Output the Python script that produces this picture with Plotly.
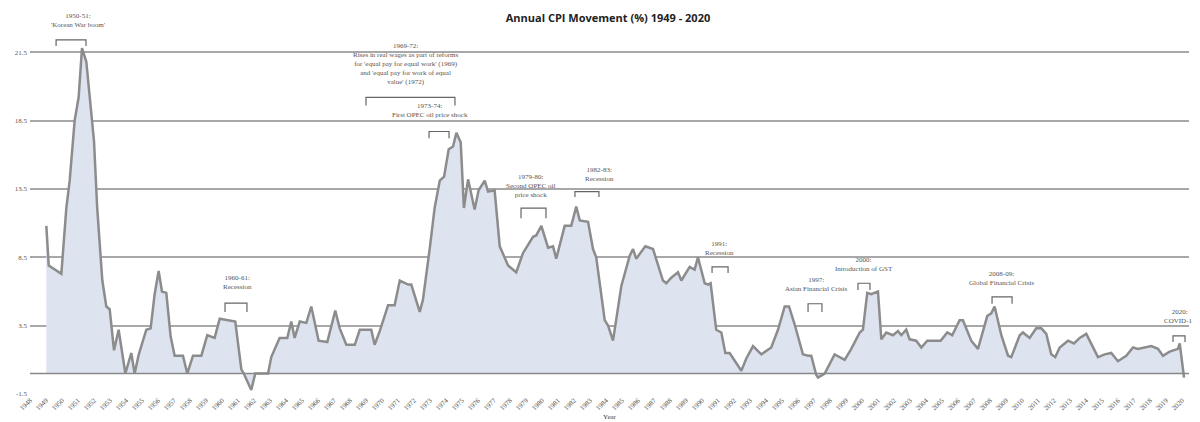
import plotly.graph_objects as go

years = [1949.02,1949.17,1949.96,1950.27,1950.48,1950.79,1951.04,1951.25,1951.52,1952.0,1952.2,1952.52,1952.77,1952.98,1953.25,1953.54,1953.96,1954.33,1954.54,1954.8,1955.27,1955.54,1955.79,1956.04,1956.25,1956.52,1956.79,1957.04,1957.56,1957.83,1958.19,1958.71,1959.08,1959.54,1959.86,1960.38,1960.83,1961.21,1961.36,1961.83,1962.08,1962.88,1963.08,1963.6,1964.08,1964.33,1964.54,1964.86,1965.27,1965.58,1966.04,1966.58,1967.08,1967.36,1967.77,1968.3,1968.61,1969.33,1969.54,1969.86,1970.38,1970.79,1971.11,1971.63,1971.83,1972.36,1972.56,1972.98,1973.29,1973.61,1973.88,1974.17,1974.44,1974.65,1974.92,1975.12,1975.38,1975.79,1976.04,1976.42,1976.63,1977.04,1977.36,1977.88,1978.39,1978.81,1979.44,1979.64,1979.96,1980.38,1980.69,1980.89,1981.42,1981.83,1982.14,1982.36,1982.88,1983.19,1983.39,1983.92,1984.13,1984.44,1984.96,1985.48,1985.69,1985.89,1986.46,1986.94,1987.56,1987.77,1988.08,1988.5,1988.71,1989.23,1989.54,1989.75,1990.17,1990.38,1990.54,1990.89,1991.21,1991.46,1991.73,1992.46,1992.77,1993.19,1993.71,1994.33,1994.75,1995.17,1995.44,1995.79,1996.31,1996.63,1996.83,1997.14,1997.25,1997.67,1998.29,1998.92,1999.33,1999.86,2000.06,2000.33,2000.58,2001.0,2001.21,2001.52,2001.94,2002.25,2002.46,2002.77,2002.98,2003.39,2003.71,2004.08,2004.54,2004.92,2005.33,2005.64,2006.1,2006.31,2006.83,2007.25,2007.83,2008.08,2008.29,2008.71,2009.13,2009.33,2009.86,2010.06,2010.48,2010.89,2011.21,2011.52,2011.83,2012.08,2012.36,2012.88,2013.25,2013.61,2014.02,2014.75,2015.17,2015.58,2016.0,2016.52,2016.94,2017.25,2018.08,2018.5,2018.81,2019.23,2019.75,2019.86,2020.13]
cpi = [10.8,7.9,7.3,12.1,14.1,18.5,20.2,23.8,22.8,17.0,12.1,6.8,4.9,4.7,1.7,3.2,0.0,1.5,0.0,1.4,3.2,3.3,5.8,7.5,6.0,5.9,2.7,1.3,1.3,0.0,1.3,1.3,2.8,2.6,4.0,3.9,3.8,0.3,0.0,-1.2,0.0,0.0,1.2,2.6,2.6,3.8,2.6,3.8,3.7,4.9,2.4,2.3,4.6,3.3,2.1,2.1,3.2,3.2,2.1,3.1,5.0,5.0,6.8,6.5,6.5,4.5,5.4,9.1,12.1,14.1,14.4,16.4,16.6,17.6,16.9,12.1,14.2,12.0,13.4,14.1,13.3,13.4,9.3,7.9,7.4,8.8,10.0,10.1,10.8,9.2,9.3,8.4,10.8,10.8,12.2,11.2,11.1,9.1,8.5,3.9,3.5,2.4,6.4,8.6,9.1,8.4,9.3,9.1,6.8,6.6,7.0,7.4,6.8,7.8,7.6,8.5,6.6,6.5,6.6,3.2,3.0,1.5,1.5,0.2,1.1,2.0,1.4,1.9,3.2,4.9,4.9,3.6,1.4,1.3,1.3,-0.1,-0.3,0.0,1.4,1.0,1.8,3.0,3.2,5.9,5.8,6.0,2.5,3.0,2.8,3.1,2.8,3.2,2.5,2.4,1.9,2.4,2.4,2.4,3.0,2.8,3.9,3.9,2.4,1.8,4.2,4.4,4.9,2.8,1.3,1.2,2.8,3.0,2.6,3.3,3.3,2.9,1.4,1.2,1.9,2.4,2.2,2.6,2.9,1.2,1.4,1.5,0.9,1.3,1.9,1.8,2.0,1.8,1.3,1.6,1.8,2.2,-0.3]

year_ticks = list(range(1948, 2021))
y_tickvals = [-1.5, 3.5, 8.5, 13.5, 18.5, 23.5]
y_ticktext = ["-1.5", "3.5", "8.5", "13.5", "18.5", "21.5"]

ev_text = ["1950-51:<br>'Korean War boom'",
           "1969-72:<br>Rises in real wages as part of reforms<br>for 'equal pay for equal work' (1969)<br>and 'equal pay for work of equal<br>value' (1972)",
           "1973-74:<br>First OPEC oil price shock",
           "1960-61:<br>Recession",
           "1979-80:<br>Second OPEC oil<br>price shock",
           "1982-83:<br>Recession",
           "1991:<br>Recession",
           "1997:<br>Asian Financial Crisis",
           "2000:<br>Introduction of GST",
           "2008-09:<br>Global Financial Crisis",
           "2020:<br>COVID-19"]
ev_tx = [1951.0, 1971.5, 1973.0, 1960.94, 1979.3, 1983.6, 1991.1, 1997.1, 2000.1, 2008.75, 2019.9]
ev_ty = [25.05, 20.9, 18.5, 5.9, 12.65, 13.75, 8.4, 5.75, 7.2, 6.2, 3.4]
br_x0 = [1949.63, 1969.0, 1972.94, 1960.19, 1978.69, 1982.06, 1990.63, 1996.63, 1999.75, 2008.13, 2019.44]
br_x1 = [1951.5, 1974.56, 1974.19, 1961.56, 1980.25, 1983.56, 1991.63, 1997.5, 2000.5, 2009.38, 2020.19]
br_top = [24.4, 20.2, 17.7, 5.15, 12.1, 13.3, 7.8, 5.1, 6.6, 5.6, 2.75]
br_bot = [23.96, 19.6, 17.2, 4.5, 11.35, 12.9, 7.35, 4.5, 6.1, 5.1, 2.3]

fig = go.Figure()
fig.add_trace(go.Scatter(x=years, y=cpi, mode="lines", fill="tozeroy",
                         fillcolor="#dde3ef", line=dict(color="#8c8c8c", width=2.5),
                         hoverinfo="x+y"))

for i in range(len(ev_text)):
    fig.add_shape(type="path", xref="x", yref="y",
                  path=f"M {br_x0[i]},{br_bot[i]} L {br_x0[i]},{br_top[i]} L {br_x1[i]},{br_top[i]} L {br_x1[i]},{br_bot[i]}",
                  line=dict(color="#666", width=1.2))
    fig.add_annotation(x=ev_tx[i], y=ev_ty[i], text=ev_text[i], showarrow=False,
                       xanchor="center", yanchor="bottom",
                       font=dict(family="Liberation Serif", size=7, color="#555"))

fig.add_hline(y=0, line=dict(color="#888", width=1.5))

fig.update_layout(
    width=1200, height=422,
    margin=dict(l=22, r=19, t=10, b=36, autoexpand=False),
    paper_bgcolor="white", plot_bgcolor="white",
    showlegend=False,
    title=dict(text="<b>Annual CPI Movement (%) 1949 - 2020</b>", x=0.5, xanchor="center",
               y=0.985, yanchor="top", font=dict(family="Open Sans", size=11, color="#222")),
    font=dict(family="Liberation Serif", size=7, color="#555"),
)
fig.update_xaxes(range=[1948, 2020.44], tickvals=year_ticks, ticktext=[str(y) for y in year_ticks],
                 tickangle=-45, showgrid=False, zeroline=False, showline=False, automargin=False,
                 title=dict(text="Year", font=dict(size=7, color="#444"), standoff=2),
                 tickfont=dict(size=7))
fig.update_yaxes(range=[-1.5, 26], tickvals=y_tickvals, ticktext=y_ticktext, automargin=False,
                 showgrid=True, gridcolor="#a8a8a8", gridwidth=1.5, zeroline=False,
                 tickfont=dict(size=7), ticks="", ticklabelstandoff=2)
fig.write_html("out.html")
